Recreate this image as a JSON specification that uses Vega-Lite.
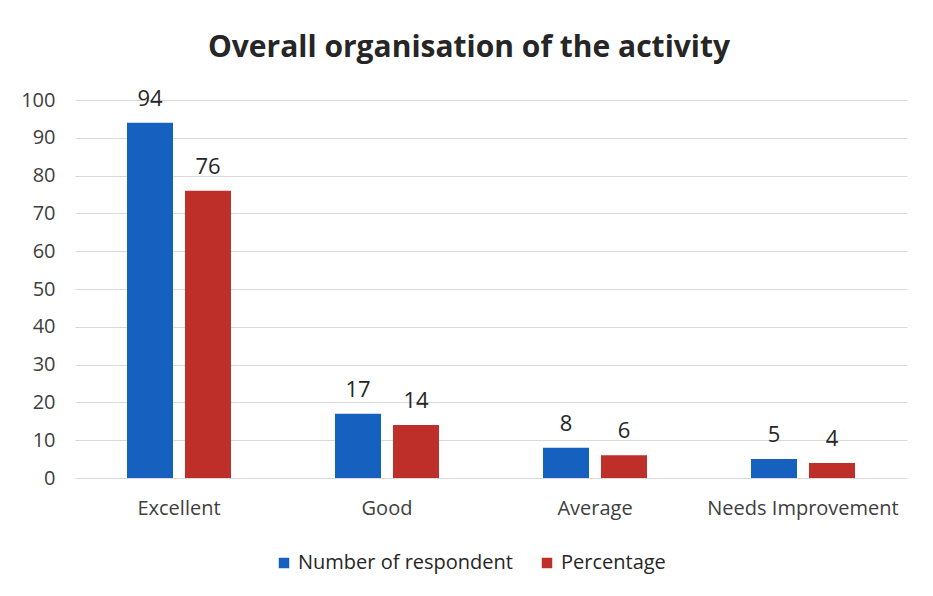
{
  "$schema": "https://vega.github.io/schema/vega-lite/v6.json",
  "width": 832,
  "height": 378,
  "autosize": {"type": "none"},
  "padding": {"left": 75, "top": 100, "right": 26, "bottom": 118},
  "background": "white",
  "config": {"view": {"stroke": null}},
  "title": {
    "text": "Overall organisation of the activity",
    "font": "Open Sans",
    "fontSize": 30,
    "fontWeight": "bold",
    "color": "#262626",
    "anchor": "middle",
    "dx": -22,
    "offset": 25
  },
  "data": {
    "values": [
      {"category": "Excellent", "series": "Number of respondent", "value": 94},
      {"category": "Excellent", "series": "Percentage", "value": 76},
      {"category": "Good", "series": "Number of respondent", "value": 17},
      {"category": "Good", "series": "Percentage", "value": 14},
      {"category": "Average", "series": "Number of respondent", "value": 8},
      {"category": "Average", "series": "Percentage", "value": 6},
      {"category": "Needs Improvement", "series": "Number of respondent", "value": 5},
      {"category": "Needs Improvement", "series": "Percentage", "value": 4}
    ]
  },
  "encoding": {
    "x": {
      "field": "category",
      "type": "nominal",
      "sort": null,
      "scale": {"paddingInner": 0.5, "paddingOuter": 0.25},
      "axis": {
        "title": null,
        "labelAngle": 0,
        "labelFont": "Open Sans",
        "labelFontSize": 20,
        "labelColor": "#404040",
        "labelPadding": 20,
        "labelLimit": 0,
        "ticks": false,
        "domain": false
      }
    },
    "xOffset": {
      "field": "series",
      "type": "nominal",
      "scale": {"paddingInner": 0.207, "paddingOuter": 0}
    },
    "y": {
      "field": "value",
      "type": "quantitative",
      "scale": {"domain": [0, 100]},
      "axis": {
        "title": null,
        "values": [0,10,20,30,40,50,60,70,80,90,100],
        "labelOverlap": false,
        "labelFont": "Open Sans",
        "labelFontSize": 20,
        "labelColor": "#404040",
        "labelPadding": 20,
        "ticks": false,
        "domain": false,
        "grid": true,
        "gridColor": "#d9d9d9",
        "gridWidth": 1
      }
    }
  },
  "layer": [
    {
      "mark": {"type": "bar"},
      "encoding": {
        "color": {
          "field": "series",
          "type": "nominal",
          "scale": {"domain": ["Number of respondent", "Percentage"], "range": ["#1660bf", "#bf2f2a"]},
          "legend": {
            "title": null,
            "orient": "none",
            "legendX": 199,
            "legendY": 453,
            "direction": "horizontal",
            "symbolType": "square",
            "symbolSize": 110,
            "symbolStrokeWidth": 0,
            "labelFont": "Open Sans",
            "labelFontSize": 20,
            "labelLimit": 0,
            "labelColor": "#262626",
            "columnPadding": 24,
            "labelOffset": 4
          }
        }
      }
    },
    {
      "mark": {"type": "text", "dy": -24, "font": "Open Sans", "fontSize": 22, "color": "#262626"},
      "encoding": {
        "text": {"field": "value", "type": "quantitative"}
      }
    }
  ]
}
